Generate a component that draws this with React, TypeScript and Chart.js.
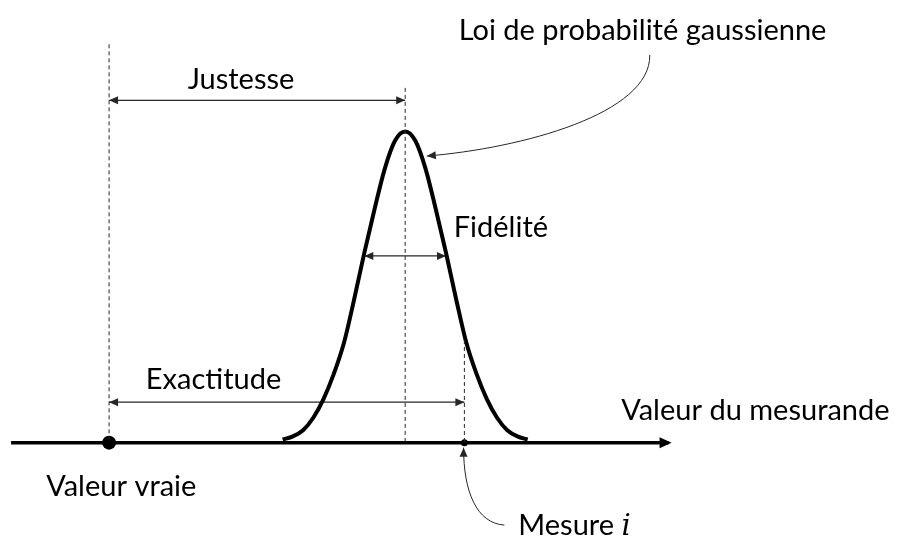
import { useEffect, useRef } from "react";
import { Chart, registerables } from "chart.js";

Chart.register(...registerables);

// Horizontal axis: "valeur du mesurande" expressed in units of sigma, true value at 0
// Vertical axis: relative probability density (peak = 1)
const trueValue = 0;
const meanValue = 7.25;
const sigma = 1;
const measureValue = 8.7;

const curveX = [
  4.25, 4.5, 4.75, 5.0, 5.25, 5.5, 5.75, 6.0, 6.25, 6.5, 6.75, 7.0, 7.25,
  7.5, 7.75, 8.0, 8.25, 8.5, 8.75, 9.0, 9.25, 9.5, 9.75, 10.0, 10.25,
];
const curveY = [
  0.01, 0.02, 0.04, 0.08, 0.14, 0.22, 0.32, 0.46, 0.61, 0.75, 0.88, 0.97, 1.0,
  0.97, 0.88, 0.75, 0.61, 0.46, 0.32, 0.22, 0.14, 0.08, 0.04, 0.02, 0.01,
];

const axisRange = [-2.4, 13.7];
const guideTops = [1.28, 1.14, 0.33]; // true value, mean, measurement
const arrowLevels = [1.1, 0.6, 0.13]; // justesse, fidélité, exactitude

const labelTexts = [
  "Loi de probabilité gaussienne",
  "Justesse",
  "Fidélité",
  "Exactitude",
  "Valeur du mesurande",
  "Valeur vraie",
  "Mesure ",
];
const labelAnchors = [
  { x: 8.56, y: 1.293, align: "left" },
  { x: 3.23, y: 1.136, align: "center" },
  { x: 8.44, y: 0.662, align: "left" },
  { x: 0.9, y: 0.1735, align: "left" },
  { x: 12.54, y: 0.0726, align: "left" },
  { x: -1.54, y: -0.17, align: "left" },
  { x: 10.02, y: -0.297, align: "left" },
];

const callouts = [
  { p0: [13.24, 1.246], c1: [13.27, 1.057], c2: [10.1, 0.946], p3: [7.78, 0.921] },
  { p0: [9.68, -0.265], c1: [9.0, -0.259], c2: [8.68, -0.158], p3: [8.68, -0.016] },
];

const FONT = "Lato, 'Open Sans', sans-serif";
const INK = "#000000";
const THIN = "#262626";

function drawHead(
  ctx: CanvasRenderingContext2D,
  tipX: number,
  tipY: number,
  fromX: number,
  fromY: number,
  len: number,
  half: number,
  color: string
) {
  const ang = Math.atan2(tipY - fromY, tipX - fromX);
  ctx.save();
  ctx.translate(tipX, tipY);
  ctx.rotate(ang);
  ctx.beginPath();
  ctx.moveTo(0, 0);
  ctx.lineTo(-len, -half);
  ctx.lineTo(-len, half);
  ctx.closePath();
  ctx.fillStyle = color;
  ctx.fill();
  ctx.restore();
}

const decorPlugin = {
  id: "decor",
  afterDatasetsDraw(chart: any) {
    const ctx: CanvasRenderingContext2D = chart.ctx;
    const xs = chart.scales.x;
    const ys = chart.scales.y;
    const px = (v: number) => xs.getPixelForValue(v);
    const py = (v: number) => ys.getPixelForValue(v);

    // arrow heads on line datasets
    chart.data.datasets.forEach((ds: any, i: number) => {
      if (!ds.arrows) return;
      const meta = chart.getDatasetMeta(i);
      const pts = meta.data;
      if (pts.length < 2) return;
      const a = pts[0];
      const b = pts[pts.length - 1];
      const len = ds.headLength || 9;
      const half = ds.headHalf || 4;
      const ext = ds.headExtend || 0;
      const color = ds.borderColor;
      if (ds.arrows === "end" || ds.arrows === "both") {
        const ang = Math.atan2(b.y - a.y, b.x - a.x);
        drawHead(ctx, b.x + Math.cos(ang) * ext, b.y + Math.sin(ang) * ext, a.x, a.y, len, half, color);
      }
      if (ds.arrows === "start" || ds.arrows === "both") {
        const ang = Math.atan2(a.y - b.y, a.x - b.x);
        drawHead(ctx, a.x + Math.cos(ang) * ext, a.y + Math.sin(ang) * ext, b.x, b.y, len, half, color);
      }
    });

    // curved call-out arrows
    callouts.forEach((c) => {
      const p0 = [px(c.p0[0]), py(c.p0[1])];
      const c1 = [px(c.c1[0]), py(c.c1[1])];
      const c2 = [px(c.c2[0]), py(c.c2[1])];
      const p3 = [px(c.p3[0]), py(c.p3[1])];
      ctx.save();
      ctx.strokeStyle = THIN;
      ctx.lineWidth = 1;
      ctx.beginPath();
      ctx.moveTo(p0[0], p0[1]);
      ctx.bezierCurveTo(c1[0], c1[1], c2[0], c2[1], p3[0], p3[1]);
      ctx.stroke();
      ctx.restore();
      drawHead(ctx, p3[0], p3[1], c2[0], c2[1], 9, 4, THIN);
    });

    // labels
    ctx.save();
    ctx.fillStyle = INK;
    ctx.textBaseline = "alphabetic";
    labelTexts.forEach((t, i) => {
      const a = labelAnchors[i];
      ctx.font = `29px ${FONT}`;
      ctx.textAlign = a.align as CanvasTextAlign;
      const x = px(a.x);
      const y = py(a.y);
      ctx.fillText(t, x, y);
      if (t === "Mesure ") {
        const w = ctx.measureText(t).width;
        ctx.font = `italic 29px 'DejaVu Serif', 'Liberation Serif', serif`;
        ctx.textAlign = "left";
        ctx.fillText("i", x + w, y);
      }
    });
    ctx.restore();
  },
};

export default function App() {
  const ref = useRef<HTMLCanvasElement | null>(null);

  useEffect(() => {
    if (!ref.current) return;
    const line = (pts: number[][], extra: any) => ({
      data: pts.map(([x, y]) => ({ x, y })),
      showLine: true,
      pointRadius: 0,
      pointHoverRadius: 0,
      fill: false,
      ...extra,
    });

    const datasets: any[] = [
      // dashed guides
      line([[trueValue, guideTops[0]], [trueValue, 0]], { borderColor: THIN, borderWidth: 1, borderDash: [4, 3] }),
      line([[meanValue, guideTops[1]], [meanValue, 0]], { borderColor: THIN, borderWidth: 1, borderDash: [4, 3] }),
      line([[measureValue, guideTops[2]], [measureValue, 0]], { borderColor: THIN, borderWidth: 1, borderDash: [4, 3] }),
      // gaussian
      line(curveX.map((x, i) => [x, curveY[i]]), { borderColor: INK, borderWidth: 4, tension: 0.4, cubicInterpolationMode: "monotone" }),
      // dimension arrows
      line([[trueValue, arrowLevels[0]], [meanValue, arrowLevels[0]]], { borderColor: THIN, borderWidth: 1.2, arrows: "both", headLength: 9, headHalf: 4 }),
      line([[meanValue - sigma, arrowLevels[1]], [meanValue + sigma, arrowLevels[1]]], { borderColor: THIN, borderWidth: 1.2, arrows: "both", headLength: 9, headHalf: 4 }),
      line([[trueValue, arrowLevels[2]], [measureValue, arrowLevels[2]]], { borderColor: THIN, borderWidth: 1.2, arrows: "both", headLength: 9, headHalf: 4 }),
      // main axis
      line([[axisRange[0], 0], [axisRange[1], 0]], { borderColor: INK, borderWidth: 3.5, arrows: "end", headLength: 12, headHalf: 5.5, headExtend: 3 }),
      // points
      {
        data: [{ x: trueValue, y: 0 }, { x: measureValue, y: 0 }],
        showLine: false,
        pointRadius: [7, 3.5],
        pointBackgroundColor: INK,
        pointBorderColor: INK,
        pointBorderWidth: 0,
      },
    ];

    const chart = new Chart(ref.current, {
      type: "scatter",
      data: { datasets },
      options: {
        animation: false,
        responsive: false,
        events: [],
        layout: { padding: { left: 3.5, right: 16, top: 1.2, bottom: 2.9 } },
        scales: {
          x: { type: "linear", min: -2.5, max: 19, display: false },
          y: { type: "linear", min: -0.3, max: 1.4, display: false },
        },
        plugins: { legend: { display: false }, tooltip: { enabled: false } },
        elements: { line: { borderCapStyle: "butt" } },
      } as any,
      plugins: [decorPlugin],
    });
    return () => chart.destroy();
  }, []);

  return (
    <div style={{ position: "absolute", left: 0, top: 0, width: 901, height: 543, background: "#fff" }}>
      <canvas ref={ref} width={901} height={543} style={{ display: "block" }} />
    </div>
  );
}
